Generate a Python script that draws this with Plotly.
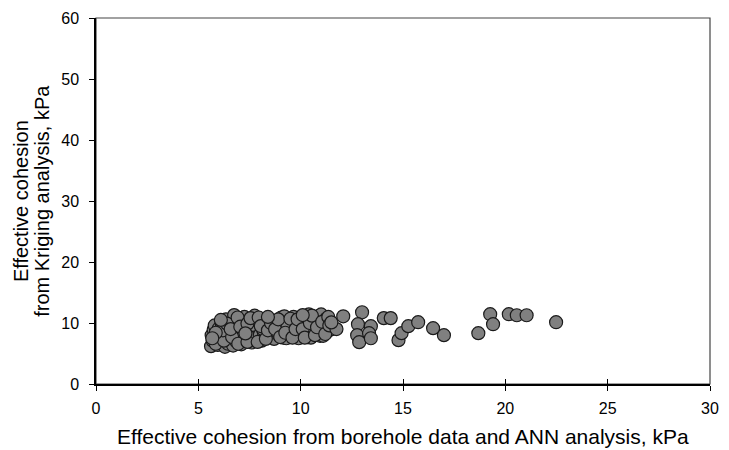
import plotly.graph_objects as go

# Effective cohesion from borehole data and ANN analysis (kPa)
ann_c = [
    5.62, 5.70, 5.65, 5.75, 5.80, 5.95, 6.05, 5.90, 6.10, 6.00, 6.15, 6.20,
    6.30, 6.45, 6.35, 6.55, 6.40, 6.50, 6.60, 6.35, 6.62, 6.48,
    6.70, 6.85, 6.75, 6.95, 6.80, 6.90, 7.00, 6.75, 6.88,
    7.10, 7.30, 7.20, 7.45, 7.15, 7.35, 7.25, 7.50,
    7.60, 7.80, 7.70, 7.95, 7.65, 7.85, 7.75, 8.00,
    8.10, 8.35, 8.20, 8.50, 8.25, 8.45, 8.60, 8.15,
    8.70, 8.95, 8.80, 9.10, 8.85, 9.05, 9.20, 9.15,
    9.30, 9.55, 9.40, 9.70, 9.45, 9.65, 9.80, 9.35,
    9.90, 10.15, 10.00, 10.30, 10.05, 10.25, 10.40, 10.35,
    10.50, 10.75, 10.60, 10.90, 10.65, 10.85, 11.00, 10.95,
    11.10, 11.30, 11.15, 11.45, 11.25, 11.55,
    5.85, 6.25, 6.20, 5.85, 6.40, 6.65, 6.58, 6.95, 6.92, 7.05, 7.40, 7.40,
    7.55, 7.30, 7.90, 7.95, 8.05, 8.30, 8.40, 8.55, 8.75, 8.90, 9.00, 9.25,
    9.50, 9.60, 9.75, 9.85, 10.10, 10.20, 10.45, 10.55, 10.70, 10.80, 11.05,
    11.20, 11.35, 11.40, 10.10, 8.40, 6.10, 5.68,
    11.75, 11.50, 12.08, 13.00, 12.80, 12.76, 12.86, 13.43, 13.34, 13.43,
    14.06, 14.40, 14.78, 14.93, 15.26, 15.74, 16.47, 17.00, 18.68,
    19.26, 19.40, 20.17, 20.56, 21.04, 22.48,
]

# Effective cohesion from Kriging analysis (kPa)
kriging_c = [
    6.2, 7.1, 8.0, 8.9, 9.6, 6.4, 6.9, 7.6, 8.3, 9.1, 9.8, 10.1,
    6.1, 6.6, 7.3, 8.0, 8.7, 9.4, 10.2, 10.6, 7.0, 8.4,
    6.3, 7.0, 7.8, 8.4, 9.1, 9.8, 10.5, 11.3, 8.2,
    6.5, 7.1, 7.9, 8.8, 9.5, 10.3, 11.0, 7.4,
    6.8, 7.5, 8.2, 9.0, 9.7, 10.4, 11.2, 8.0,
    7.1, 7.8, 8.5, 9.2, 9.9, 10.5, 8.2, 9.0,
    7.4, 8.0, 8.7, 9.4, 10.1, 10.9, 11.1, 7.6,
    7.5, 8.2, 8.9, 9.6, 10.3, 11.0, 7.8, 9.3,
    7.5, 8.1, 8.8, 9.5, 10.2, 10.9, 11.4, 7.7,
    7.6, 8.3, 9.0, 9.7, 10.4, 11.1, 11.4, 7.9,
    7.9, 8.6, 9.4, 10.1, 10.7, 9.0,
    6.6, 7.1, 8.8, 8.4, 9.9, 7.7, 9.0, 6.6, 10.9, 9.4, 6.9, 9.9,
    10.8, 8.3, 6.9, 10.9, 9.5, 7.4, 8.8, 10.0, 9.0, 10.6, 7.7, 8.4,
    10.7, 7.6, 9.0, 10.6, 9.0, 7.6, 10.0, 11.2, 8.0, 9.3, 10.2,
    8.2, 11.0, 9.6, 11.3, 11.0, 10.5, 7.5,
    9.0, 10.1, 11.1, 11.76, 9.8, 8.0, 6.86, 9.48, 8.33, 7.5,
    10.8, 10.8, 7.19, 8.33, 9.48, 10.13, 9.15, 8.0, 8.33,
    11.44, 9.8, 11.44, 11.27, 11.27, 10.13,
]

x_ticks = [0, 5, 10, 15, 20, 25, 30]
y_ticks = [0, 10, 20, 30, 40, 50, 60]

x_title = "Effective cohesion from borehole data and ANN analysis, kPa"
y_title_lines = ["Effective cohesion", "from Kriging analysis, kPa"]

FONT = "Liberation Sans, Arial, sans-serif"

fig = go.Figure()
fig.add_trace(go.Scatter(
    x=ann_c, y=kriging_c, mode="markers",
    marker=dict(size=13, color="#808080", line=dict(color="#1a1a1a", width=1.2)),
    showlegend=False, cliponaxis=False,
))
# invisible trace on secondary x axis to draw inward ticks (crossing ticks)
fig.add_trace(go.Scatter(x=[None], y=[None], xaxis="x2", showlegend=False))

fig.update_layout(
    width=729, height=450,
    margin=dict(l=96, r=10, t=17, b=66),
    paper_bgcolor="white", plot_bgcolor="white",
    font=dict(family=FONT, size=16, color="black"),
    xaxis=dict(
        range=[0, 30], tickvals=x_ticks, ticks="outside", ticklen=5,
        tickwidth=1.2, tickcolor="black",
        showline=True, linecolor="black", linewidth=1.5,
        showgrid=False, zeroline=False,
        tickfont=dict(size=16), ticklabelstandoff=4,
    ),
    xaxis2=dict(
        range=[0, 30], tickvals=x_ticks, ticks="inside", ticklen=5,
        tickwidth=1.2, tickcolor="black", overlaying="x", side="bottom",
        showticklabels=False, showline=False, showgrid=False, zeroline=False,
    ),
    yaxis=dict(
        range=[0, 60], tickvals=y_ticks, ticks="outside", ticklen=5,
        tickwidth=1.2, tickcolor="black",
        showline=True, linecolor="black", linewidth=1.5,
        showgrid=False, zeroline=False,
        tickfont=dict(size=16), ticklabelstandoff=7,
    ),
    shapes=[dict(type="rect", xref="paper", yref="paper", x0=0, y0=0, x1=1, y1=1,
                 line=dict(color="#444444", width=1.2), layer="below")],
    annotations=[
        dict(text=x_title, xref="paper", yref="paper", x=0.5, y=-53 / 367,
             showarrow=False, font=dict(size=21), xanchor="center", yanchor="middle"),
        dict(text=y_title_lines[0], xref="paper", yref="paper", x=-76 / 623, y=0.5,
             showarrow=False, font=dict(size=20), textangle=-90,
             xanchor="center", yanchor="middle"),
        dict(text=y_title_lines[1], xref="paper", yref="paper", x=-55 / 623, y=0.5,
             showarrow=False, font=dict(size=20), textangle=-90,
             xanchor="center", yanchor="middle"),
    ],
)

fig.write_html("out.html")
